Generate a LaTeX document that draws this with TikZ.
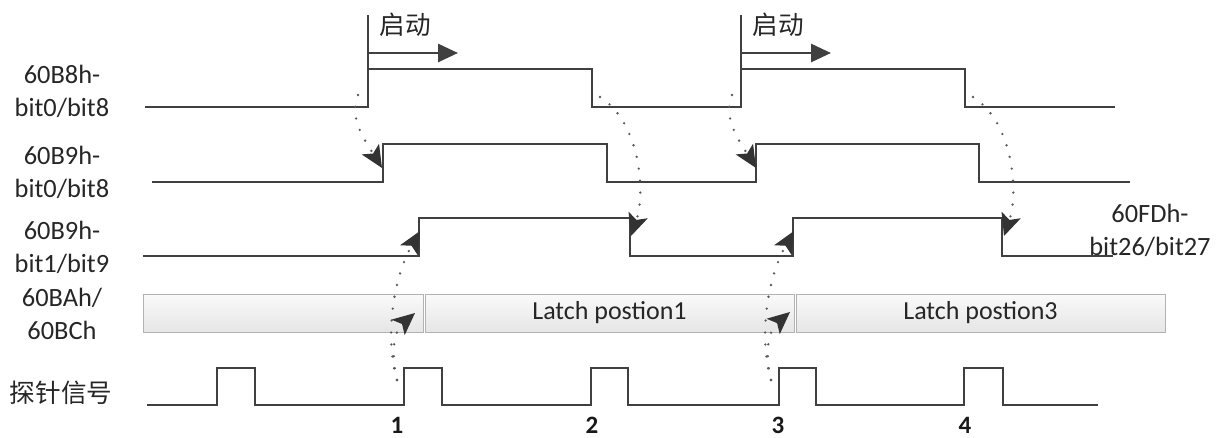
\documentclass[tikz,border=0pt]{standalone}
\usepackage{fontspec}
\setmainfont{Carlito}
\newfontfamily\cjk{Noto Sans CJK SC}
\usetikzlibrary{arrows.meta}
\tikzstyle{wave} = [line width=1.45pt, draw=black!75]
\tikzstyle{sig} = [align=center, text=black!85, inner sep=0pt, font=\fontsize{13.2}{16.5}\selectfont]
\tikzstyle{cn} = [text=black!85, inner sep=0pt, font=\cjk\fontsize{12.8}{14}\selectfont]
\tikzstyle{num} = [text=black!90, inner sep=0pt, font=\bfseries\fontsize{12.5}{13}\selectfont]
\tikzstyle{latch} = [draw=black!30, top color=black!2, bottom color=black!10, minimum height=19pt, inner sep=0pt, text=black!85, font=\fontsize{13}{15}\selectfont]
\tikzstyle{arrow} = [line width=1.45pt, draw=black!75, -{Triangle[length=10pt,width=9pt]}]
\tikzstyle{dotarrow} = [line width=1.3pt, draw=black!65, dash pattern=on 0pt off 6pt, line cap=round, -{Stealth[length=11pt,width=10pt,inset=2.5pt,color=black!80]}]

\begin{document}
\begin{tikzpicture}[x=0.5pt,y=-0.5pt]
\useasboundingbox (0,0) rectangle (1220,438);

% signal names
\node (n1) [sig] at (62,91) {60B8h-\\bit0/bit8};
\node (n2) [sig] at (62,172) {60B9h-\\bit0/bit8};
\node (n3) [sig] at (62,247) {60B9h-\\bit1/bit9};
\node (n4) [sig] at (62,314) {60BAh/\\60BCh};
\node (n5) [cn] at (61,393) {探针信号};
\node (n6) [sig] at (1150,230) {60FDh-\\bit26/bit27};

% waveforms
\draw[wave] (145,107) -- (368,107) -- (368,69) -- (592,69) -- (592,107) -- (741,107) -- (741,69) -- (965,69) -- (965,107) -- (1115,107);
\draw[wave] (152,182) -- (383,182) -- (383,144) -- (607,144) -- (607,182) -- (756,182) -- (756,144) -- (979,144) -- (979,182) -- (1130,182);
\draw[wave] (143,256) -- (419,256) -- (419,218) -- (630,218) -- (630,256) -- (793,256) -- (793,218) -- (1002,218) -- (1002,256) -- (1113,256);
\draw[wave] (147,405) -- (217,405) -- (217,368) -- (255,368) -- (255,405) -- (404,405) -- (404,368) -- (442,368) -- (442,405) -- (591,405) -- (591,368) -- (628,368) -- (628,405) -- (779,405) -- (779,368) -- (816,368) -- (816,405) -- (964,405) -- (964,368) -- (1003,368) -- (1003,405) -- (1098,405);

% start marks
\coordinate (s1) at (368,15);
\coordinate (s2) at (741,15);
\draw[wave] (s1) -- (368,69);
\draw[wave] (s2) -- (741,69);
\coordinate (s1a) at (368,53);
\coordinate (s1b) at (458,53);
\coordinate (s2a) at (741,53);
\coordinate (s2b) at (831,53);
\draw[arrow] (s1a) -- (s1b);
\draw[arrow] (s2a) -- (s2b);
\node (go1) [cn] at (405,25) {启动};
\node (go2) [cn] at (778,25) {启动};

% latch position bar
\node (bar1) [latch, minimum width=140pt] at (283,313) {};
\node (bar2) [latch, minimum width=184.5pt] at (609.5,313) {Latch postion1};
\node (bar3) [latch, minimum width=184.5pt] at (980.5,313) {Latch postion3};

% pulse numbers
\node (p1) [num] at (397,425) {1};
\node (p2) [num] at (592,425) {2};
\node (p3) [num] at (778,425) {3};
\node (p4) [num] at (965,425) {4};

% dotted cause arrows
\coordinate (r1up1) at (358,95);
\coordinate (r2up1) at (382,168);
\coordinate (r1up2) at (732,95);
\coordinate (r2up2) at (756,168);
\coordinate (r1dn1) at (600,97);
\coordinate (r3dn1) at (631,236);
\coordinate (r1dn2) at (973,97);
\coordinate (r3dn2) at (1004,236);
\coordinate (pr1) at (397,380);
\coordinate (r3up1) at (420,231);
\coordinate (lp1) at (415,313);
\coordinate (pr3) at (771,380);
\coordinate (r3up2) at (794,231);
\coordinate (lp3) at (790,312);

\draw[dotarrow] (r1up1) .. controls (348,118) and (366,142) .. (r2up1);
\draw[dotarrow] (r1up2) .. controls (722,118) and (740,142) .. (r2up2);
\draw[dotarrow] (r1dn1) .. controls (640,122) and (646,192) .. (r3dn1);
\draw[dotarrow] (r1dn2) .. controls (1013,122) and (1019,192) .. (r3dn2);
\draw[dotarrow] (pr1) .. controls (385,340) and (392,280) .. (r3up1);
\draw[dotarrow] (pr1) .. controls (390,350) and (395,330) .. (lp1);
\draw[dotarrow] (pr3) .. controls (759,340) and (766,280) .. (r3up2);
\draw[dotarrow] (pr3) .. controls (764,350) and (769,330) .. (lp3);

\end{tikzpicture}
\end{document}
